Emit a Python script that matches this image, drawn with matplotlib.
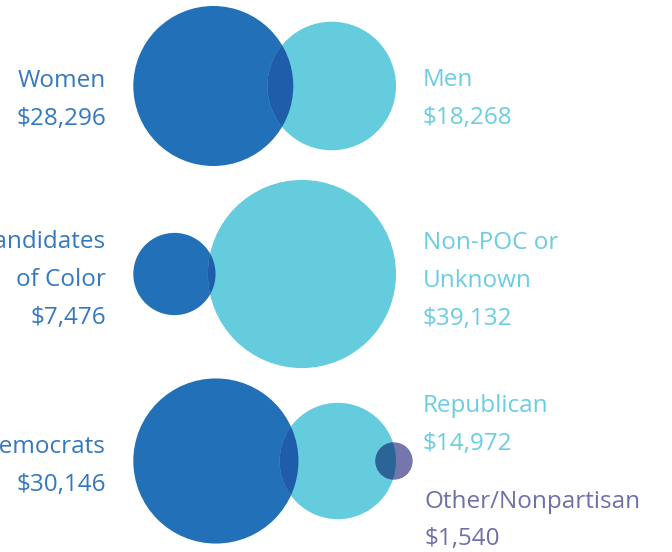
import numpy as np
import matplotlib.pyplot as plt
from matplotlib.patches import Circle

# Datos: cantidad promedio por grupo
left_labels = ['Women', 'Candidates\nof Color', 'Democrats']
left_values = [28296, 7476, 30146]
right_labels = ['Men', 'Non-POC or\nUnknown', 'Republican']
right_values = [18268, 39132, 14972]
extra_label = 'Other/Nonpartisan'
extra_value = 1540

# Estilo
dark = '#2271b8'
light = '#65ccde'
purple = '#7476ac'
dark_over_light = '#1f5daa'
purple_over_light = '#2b6597'
txt_dark = '#3478c0'
txt_light = '#6acde2'
txt_purple = '#6e70a8'

fig = plt.figure(figsize=(6.72, 5.52), dpi=100)
ax = fig.add_axes([0, 0, 1, 1])
ax.set_xlim(0, 672)
ax.set_ylim(552, 0)
ax.set_aspect('equal')
ax.axis('off')

k = 80 / np.sqrt(28296)   # radio en px por sqrt($)
row_y = [86, 274, 461]
left_edge, right_edge = 133.3, 396
fs = 17.5
font = dict(family=['Open Sans', 'DejaVu Sans'], fontsize=fs)
step = 38

left_base = [86.7, 248, 453]
right_base = [85.7, 249.3, 412]


def moneda(v):
    return '${:,}'.format(v)


for i in range(3):
    y = row_y[i]
    rl = k * np.sqrt(left_values[i])
    rr = k * np.sqrt(right_values[i])
    cl = Circle((left_edge + rl, y), rl, color=dark, lw=0)
    cr = Circle((right_edge - rr, y), rr, color=light, lw=0)
    ax.add_patch(cl)
    ax.add_patch(cr)
    # zona de solape mas oscura
    ov = Circle((left_edge + rl, y), rl, color=dark_over_light, lw=0)
    ax.add_patch(ov)
    ov.set_clip_path(cr)

    if i == 2:
        re = k * np.sqrt(extra_value)
        ce = Circle((right_edge - 2, y), re, color=purple, lw=0)
        ax.add_patch(ce)
        ov2 = Circle((right_edge - 2, y), re, color=purple_over_light, lw=0)
        ax.add_patch(ov2)
        ov2.set_clip_path(cr)

    lines = left_labels[i].split('\n') + [moneda(left_values[i])]
    for j, s in enumerate(lines):
        ax.text(106, left_base[i] + j * step, s, ha='right', va='baseline',
                color=txt_dark, **font)
    lines = right_labels[i].split('\n') + [moneda(right_values[i])]
    for j, s in enumerate(lines):
        ax.text(423, right_base[i] + j * step, s, ha='left', va='baseline',
                color=txt_light, **font)

for j, s in enumerate([extra_label, moneda(extra_value)]):
    ax.text(425, 508 + j * 37, s, ha='left', va='baseline', color=txt_purple, **font)

plt.savefig('out.png', dpi=100)
plt.close()
